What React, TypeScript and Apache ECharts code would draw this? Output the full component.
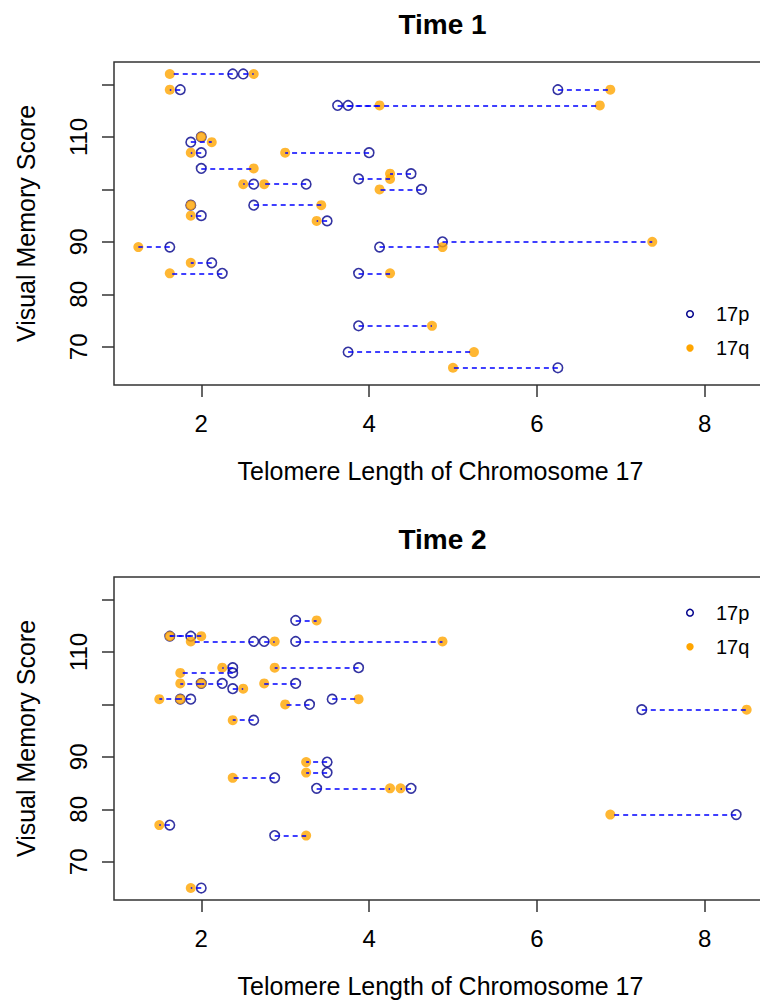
import React, { useEffect, useRef } from "react";
import * as echarts from "echarts";

// ---- Data ----
// Time 1: visual memory score, telomere length 17p, telomere length 17q
const T1_SCORE = [122, 122, 119, 119, 116, 116, 110, 109, 107, 107, 104, 103, 102, 101, 101, 100, 97, 97, 95, 94, 90, 89, 89, 86, 84, 84, 74, 69, 66];
const T1_P = [2.375, 2.5, 1.75, 6.25, 3.625, 3.75, 2.0, 1.875, 2.0, 4.0, 2.0, 4.5, 3.875, 2.625, 3.25, 4.625, 1.875, 2.625, 2.0, 3.5, 4.875, 1.625, 4.125, 2.125, 2.25, 3.875, 3.875, 3.75, 6.25];
const T1_Q = [1.625, 2.625, 1.625, 6.875, 4.125, 6.75, 2.0, 2.125, 1.875, 3.0, 2.625, 4.25, 4.25, 2.5, 2.75, 4.125, 1.875, 3.43, 1.875, 3.375, 7.375, 1.25, 4.875, 1.875, 1.625, 4.25, 4.75, 5.25, 5.0];

// Time 2
const T2_SCORE = [116, 113, 113, 112, 112, 112, 107, 107, 106, 104, 104, 104, 103, 101, 101, 101, 100, 99, 97, 89, 87, 86, 84, 84, 79, 77, 75, 65];
const T2_P = [3.125, 1.625, 1.875, 2.625, 2.75, 3.125, 2.375, 3.875, 2.375, 2.0, 2.25, 3.125, 2.375, 1.75, 1.875, 3.56, 3.29, 7.25, 2.625, 3.5, 3.5, 2.875, 3.375, 4.5, 8.375, 1.625, 2.875, 2.0];
const T2_Q = [3.375, 2.0, 1.625, 1.875, 2.875, 4.875, 2.25, 2.875, 1.75, 1.75, 2.0, 2.75, 2.5, 1.5, 1.75, 3.875, 3.0, 8.5, 2.375, 3.25, 3.25, 2.375, 4.25, 4.375, 6.875, 1.5, 3.25, 1.875];

const X_TICKS = [2, 4, 6, 8];
const Y_TICKS = [70, 80, 90, 100, 110, 120];
const Y_LABELS = [70, 80, 90, 110];
const TITLES = ["Time 1", "Time 2"];
const X_NAME = "Telomere Length of Chromosome 17";
const Y_NAME = "Visual Memory Score";
const LEGEND = ["17p", "17q"];

const FONT = "'Liberation Sans', Arial, Helvetica, sans-serif";
const X_MIN = 0.96;
const X_MAX = 8.79;
const Y_MIN = 62.72;
const Y_MAX = 124.28;

const GRID_LEFT = 114;
const GRID_W = 657;
const GRID_H = 323;
const GRID_TOPS = [62, 577];
const LEGEND_TOPS = [314, 612.7];

function panelSeries(gi: number, score: number[], p: number[], q: number[]) {
  return [
    {
      type: "scatter",
      name: "17p",
      xAxisIndex: gi,
      yAxisIndex: gi,
      data: score.map((s, i) => [p[i], s]),
      symbol: "circle",
      symbolSize: 9.5,
      itemStyle: { color: "rgba(0,0,0,0)", borderColor: "#00008B", borderWidth: 1.6 },
      emphasis: { disabled: true },
      silent: true,
      z: 2,
    },
    {
      type: "scatter",
      name: "17q",
      xAxisIndex: gi,
      yAxisIndex: gi,
      data: score.map((s, i) => [q[i], s]),
      symbol: "circle",
      symbolSize: 10,
      itemStyle: { color: "#FFA500" },
      emphasis: { disabled: true },
      silent: true,
      z: 3,
    },
    {
      type: "lines",
      coordinateSystem: "cartesian2d",
      xAxisIndex: gi,
      yAxisIndex: gi,
      data: score.map((s, i) => ({ coords: [[p[i], s], [q[i], s]] })),
      lineStyle: { color: "#0000FF", width: 1.5, type: [5, 4], opacity: 1, curveness: 0 },
      emphasis: { disabled: true },
      silent: true,
      z: 4,
    },
  ];
}

function axisX(gi: number) {
  return {
    type: "value",
    gridIndex: gi,
    min: X_MIN,
    max: X_MAX,
    axisLine: { show: false, onZero: false },
    splitLine: { show: false },
    axisTick: { show: true, length: 12, lineStyle: { color: "#333", width: 1.5 }, customValues: X_TICKS },
    axisLabel: { customValues: X_TICKS, fontSize: 24, color: "#000", margin: 26, fontFamily: FONT },
  };
}

function axisY(gi: number) {
  return {
    type: "value",
    gridIndex: gi,
    min: Y_MIN,
    max: Y_MAX,
    axisLine: { show: false, onZero: false },
    splitLine: { show: false },
    axisTick: { show: true, length: 12, lineStyle: { color: "#333", width: 1.5 }, customValues: Y_TICKS },
    axisLabel: { customValues: Y_LABELS, rotate: 90, fontSize: 24, color: "#000", margin: 24, fontFamily: FONT },
  };
}

function panelGraphics(gi: number) {
  const top = GRID_TOPS[gi];
  const lt = LEGEND_TOPS[gi];
  const cx = GRID_LEFT + 328.5;
  return [
    {
      type: "text",
      x: cx,
      y: top - 38,
      style: {
        text: TITLES[gi],
        fontSize: 28,
        fontWeight: "bold",
        fontFamily: FONT,
        fill: "#000",
        align: "center",
        verticalAlign: "middle",
        textAlign: "center",
        textVerticalAlign: "middle",
      },
    },
    {
      type: "text",
      x: cx - 2,
      y: top + 323 + 86,
      style: {
        text: X_NAME,
        fontSize: 25,
        fontFamily: FONT,
        fill: "#000",
        align: "center",
        verticalAlign: "middle",
        textAlign: "center",
        textVerticalAlign: "middle",
      },
    },
    {
      type: "text",
      x: 26,
      y: top + 161.5,
      rotation: Math.PI / 2,
      style: {
        text: Y_NAME,
        fontSize: 25,
        fontFamily: FONT,
        fill: "#000",
        align: "center",
        verticalAlign: "middle",
        textAlign: "center",
        textVerticalAlign: "middle",
      },
    },
    {
      type: "circle",
      shape: { cx: 690, cy: lt, r: 3.3 },
      style: { fill: "none", stroke: "#00008B", lineWidth: 1.5 },
    },
    {
      type: "circle",
      shape: { cx: 690, cy: lt + 34, r: 3.7 },
      style: { fill: "#FFA500" },
    },
    {
      type: "text",
      x: 716,
      y: lt,
      style: {
        text: LEGEND[0],
        fontSize: 20,
        fontFamily: FONT,
        fill: "#000",
        align: "left",
        verticalAlign: "middle",
        textAlign: "left",
        textVerticalAlign: "middle",
      },
    },
    {
      type: "text",
      x: 716,
      y: lt + 34,
      style: {
        text: LEGEND[1],
        fontSize: 20,
        fontFamily: FONT,
        fill: "#000",
        align: "left",
        verticalAlign: "middle",
        textAlign: "left",
        textVerticalAlign: "middle",
      },
    },
  ];
}

export default function App() {
  const ref = useRef<HTMLDivElement>(null);
  useEffect(() => {
    if (!ref.current) return;
    const chart = echarts.init(ref.current, null, { renderer: "svg" });
    chart.setOption({
      animation: false,
      backgroundColor: "#fff",
      grid: GRID_TOPS.map((t) => ({
        left: GRID_LEFT,
        top: t,
        width: GRID_W,
        height: GRID_H,
        show: true,
        borderColor: "#333",
        borderWidth: 1.5,
        backgroundColor: "transparent",
        containLabel: false,
        outerBoundsMode: "none",
      })),
      xAxis: [axisX(0), axisX(1)],
      yAxis: [axisY(0), axisY(1)],
      series: [...panelSeries(0, T1_SCORE, T1_P, T1_Q), ...panelSeries(1, T2_SCORE, T2_P, T2_Q)],
      graphic: [...panelGraphics(0), ...panelGraphics(1)],
    });
    return () => chart.dispose();
  }, []);
  return (
    <div
      ref={ref}
      style={{ position: "fixed", left: 0, top: 0, width: 760, height: 1000, background: "#fff" }}
    />
  );
}
